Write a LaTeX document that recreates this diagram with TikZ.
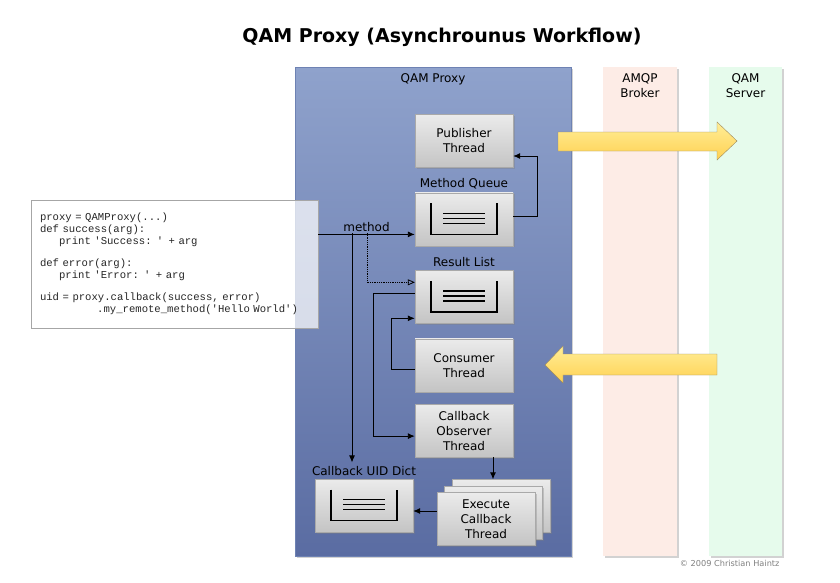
\documentclass[tikz,border=0pt]{standalone}
\usepackage{fontspec}
\setmainfont{DejaVu Sans}
\setsansfont{DejaVu Sans}
\setmonofont{Liberation Mono}[WordSpace={1,0,0}]
\usepackage{xcolor}
\usetikzlibrary{arrows.meta,positioning,shadows}

\definecolor{proxytop}{HTML}{8FA2CC}
\definecolor{proxybot}{HTML}{5A6CA2}
\definecolor{proxyline}{HTML}{6E82B3}
\definecolor{boxtop}{HTML}{EBEBEB}
\definecolor{boxbot}{HTML}{C4C4C4}
\definecolor{boxline}{HTML}{A9A9A9}
\definecolor{brokerfill}{HTML}{FDECE6}
\definecolor{serverfill}{HTML}{E6FBEC}
\definecolor{arrowtop}{HTML}{FFEE98}
\definecolor{arrowbot}{HTML}{FFD152}
\definecolor{arrowline}{HTML}{9C8A5E}

\begin{document}
\begin{tikzpicture}[x=1pt, y=-1pt,
  font=\fontsize{12}{15}\selectfont,
  panel/.style={minimum height=489pt, inner sep=0pt,
    drop shadow={opacity=0.35, shadow xshift=2pt, shadow yshift=-2pt}},
  box/.style={draw=boxline, top color=boxtop, bottom color=boxbot, align=center,
    minimum width=98pt, minimum height=53pt, inner sep=2pt,
    drop shadow={opacity=0.35, shadow xshift=1.5pt, shadow yshift=-1.5pt}},
  code/.style={draw=gray!70, fill=white, fill opacity=0.72, text opacity=1, text=black!85,
    minimum width=287pt, minimum height=128pt, text width=269pt, align=left,
    font=\ttfamily\fontsize{10.6}{12}\selectfont},
  fat/.style={draw=arrowline, top color=arrowtop, bottom color=arrowbot},
  arr/.style={-{Latex[length=7pt,width=6pt]}, line width=0.9pt},
  dotarr/.style={-{Triangle[open,length=7pt,width=6pt]}, line width=0.8pt, densely dotted},
  qline/.style={line width=1.8pt}
]
  \useasboundingbox (0,0) rectangle (840,582);
  \fill[white] (0,0) rectangle (840,582);

  % title
  \node[font=\bfseries\fontsize{19}{22}\selectfont] (title) at (442,37) {QAM Proxy (Asynchrounus Workflow)};

  % columns
  \node[panel, minimum width=276pt, draw=proxyline, top color=proxytop, bottom color=proxybot] (proxy) at (433,311.5) {};
  \node[panel, minimum width=74pt, fill=brokerfill] (broker) at (640,311.5) {};
  \node[panel, minimum width=73pt, fill=serverfill] (server) at (745.5,311.5) {};
  \node[below=3pt of proxy.north] (proxylbl) {QAM Proxy};
  \node[below=3pt of broker.north, align=center] (brokerlbl) {AMQP\\Broker};
  \node[below=3pt of server.north, align=center] (serverlbl) {QAM\\Server};

  % big arrows to and from the broker
  \draw[fat] (558,132) -- (717,132) -- (717,122) -- (737,141) -- (717,160) -- (717,151) -- (558,151) -- cycle;
  \draw[fat] (717,354) -- (563,354) -- (563,346) -- (545,365) -- (563,383) -- (563,375) -- (717,375) -- cycle;

  % threads and queues
  \node[box] (pub) at (464,141) {Publisher\\Thread};
  \node[box, below=25pt of pub, label={[name=mqlbl]above:Method Queue}] (mq) {};
  \node[box, below=24pt of mq, label={[name=rllbl]above:Result List}] (rl) {};
  \node[box, below=15pt of rl] (cons) {Consumer\\Thread};
  \node[box, below=12pt of cons] (obs) {Callback\\Observer\\Thread};
  \coordinate (ex) at (486,519);
  \node[box] (exec3) at ([shift={(15,-13)}]ex) {};
  \node[box] (exec2) at ([shift={(7.5,-6.5)}]ex) {};
  \node[box] (exec) at (ex) {Execute\\Callback\\Thread};
  \node[box, label={[name=uidlbl]above:Callback UID Dict}] (uid) at (364,505.5) {};

  % queue symbols
  \foreach \q in {mq,rl,uid} {
    \draw[qline] ([shift={(-33,-16)}]\q.center) |- ([shift={(33,15)}]\q.center) -- ++(0,-31);
    \foreach \d in {-6,-1,4}
      \draw[qline] ([shift={(-21,\d)}]\q.center) -- ([shift={(21,\d)}]\q.center);
  }

  % client code
  \node[code] (code) at (174.5,264) {proxy = QAMProxy(...)\\
def success(arg):\\
\hphantom{000}print 'Success: ' + arg\\[10pt]
def error(arg):\\
\hphantom{000}print 'Error: ' + arg\\[10pt]
uid = proxy.callback(success, error)\\
\hphantom{000000000}.my\_remote\_method('Hello World')};

  % connectors
  \coordinate (split) at (352,233);
  \coordinate (dsplit) at (367,233);
  \draw[arr] ([shift={(0,15)}]mq.west -| code.east) -- ([shift={(0,15)}]mq.west) node[midway, above=-1pt] {method};
  \draw[arr] (split) -- (split |- uidlbl.north);
  \draw[dotarr] (dsplit) |- ([shift={(0,-14.5)}]rl.west);
  \draw[arr] ([shift={(0,-3)}]mq.east) -- ++(24,0) |- ([shift={(0,15)}]pub.east);
  \draw[arr] ([shift={(0,-3.5)}]rl.west) -- ++(-41,0) |- ([shift={(0,5.5)}]obs.west);
  \draw[arr] ([shift={(0,4)}]cons.west) -- ++(-23,0) |- ([shift={(0,21.5)}]rl.west);
  \draw[arr] ([shift={(29,0)}]obs.south) -- ([shift={(29,0)}]obs.south |- exec3.north);
  \draw[arr] ([shift={(0,-8)}]exec.west) -- ([shift={(0,-8)}]exec.west -| uid.east);

  % credit
  \node[anchor=east, text=gray, font=\fontsize{8.2}{10}\selectfont] (credit) at (783,563) {© 2009 Christian Haintz};
\end{tikzpicture}
\end{document}
